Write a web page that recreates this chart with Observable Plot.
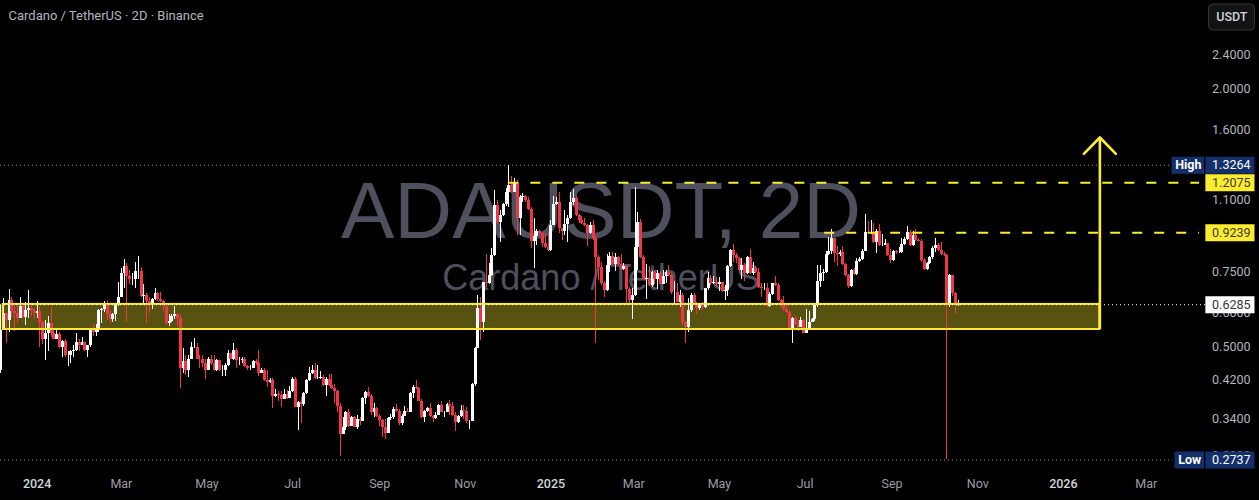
<!DOCTYPE html>
<html>
<head>
<meta charset="utf-8">
<script src="https://cdn.jsdelivr.net/npm/d3@7"></script>
<script src="https://cdn.jsdelivr.net/npm/@observablehq/plot@0.6"></script>
<style>html,body{margin:0;padding:0;background:#000;overflow:hidden}</style>
</head>
<body>
<div id="chart"></div>
<script>
const firstOpen = 0.443;
const closes = [
.548,.601,.578,.644,.607,.601,.585,.624,.588,.61,
.617,.607,.601,.607,.572,.523,.54,.569,.54,.523,
.537,.501,.517,.478,.478,.488,.493,.514,.506,.514,
.493,.504,.548,.543,.548,.61,.614,.634,.598,.582,
.595,.627,.654,.744,.772,.732,.72,.72,.752,.752,
.658,.661,.641,.634,.647,.668,.647,.641,.624,.569,
.575,.591,.595,.585,.446,.463,.443,.47,.501,.501,
.47,.468,.458,.441,.47,.458,.441,.465,.441,.441,
.455,.485,.468,.493,.465,.465,.47,.451,.446,.446,
.463,.46,.436,.443,.418,.414,.418,.385,.389,.387,
.379,.389,.381,.395,.421,.363,.373,.369,.391,.418,
.434,.441,.423,.423,.425,.408,.421,.408,.401,.395,
.365,.313,.326,.352,.328,.344,.326,.34,.337,.381,
.393,.385,.352,.361,.346,.339,.326,.316,.342,.344,
.359,.355,.332,.346,.355,.353,.391,.403,.401,.375,
.344,.355,.361,.346,.342,.348,.367,.353,.353,.369,
.365,.348,.335,.346,.357,.355,.337,.337,.41,.498,
.617,.572,.709,.705,.736,.819,1.07,.977,1.015,1.075,
1.147,1.19,1.147,1.203,.998,1.117,1.123,1.099,1.047,.882,
.906,.931,.921,.873,.854,.841,.961,1.075,1.087,.946,
.931,.967,.998,1.087,1.111,1.015,.987,.972,.961,.921,
.961,.896,.81,.768,.705,.679,.777,.814,.781,.81,
.781,.76,.772,.683,.644,.661,.854,.977,.81,.72,
.724,.698,.748,.72,.744,.701,.732,.748,.736,.672,
.672,.637,.661,.572,.557,.61,.661,.634,.617,.63,
.62,.686,.724,.705,.709,.701,.709,.675,.679,.772,
.841,.819,.806,.756,.777,.744,.81,.744,.764,.748,
.69,.686,.686,.624,.665,.705,.698,.644,.627,.614,
.604,.551,.585,.566,.557,.578,.54,.548,.572,.582,
.627,.713,.744,.748,.823,.836,.896,.827,.823,.832,
.781,.736,.694,.756,.74,.793,.802,.836,.926,.921,
.926,.877,.931,.863,.863,.873,.819,.797,.836,.832,
.832,.868,.891,.926,.863,.911,.887,.882,.797,.76,
.785,.81,.85,.863,.841,.823,.819,.627,.736,.668,.627,.6285];
const highs = [
.627,.651,.601,.683,.654,.627,.627,.654,.634,.637,
.679,.627,.617,.641,.62,.575,.578,.591,.62,.554,
.551,.543,.52,.523,.488,.493,.504,.54,.523,.528,
.514,.506,.551,.566,.566,.614,.617,.641,.644,.61,
.601,.63,.709,.764,.802,.785,.756,.744,.789,.814,
.768,.701,.668,.654,.651,.686,.672,.672,.644,.624,
.598,.598,.624,.598,.595,.498,.48,.478,.514,.525,
.512,.48,.48,.468,.475,.478,.478,.47,.465,.455,
.458,.493,.485,.512,.498,.473,.475,.473,.455,.453,
.465,.468,.493,.446,.446,.441,.423,.423,.399,.395,
.395,.399,.397,.406,.425,.425,.375,.383,.393,.421,
.448,.455,.46,.453,.439,.43,.425,.432,.432,.41,
.397,.371,.344,.355,.359,.346,.346,.348,.344,.383,
.395,.403,.389,.371,.363,.35,.34,.34,.344,.35,
.363,.369,.359,.35,.365,.361,.393,.408,.418,.403,
.379,.357,.363,.371,.348,.353,.369,.375,.355,.371,
.377,.373,.352,.348,.367,.367,.363,.339,.412,.501,
.661,.654,.709,.823,.785,.85,1.159,1.099,1.042,1.081,
1.171,1.3264,1.249,1.236,1.223,1.129,1.141,1.129,1.117,1.058,
.998,.941,.936,.926,.921,.921,.987,1.123,1.117,1.147,
.946,1.042,1.015,1.147,1.165,1.123,1.02,1.009,.998,.967,
.977,.987,.906,.819,.789,.713,.823,.832,.832,.827,
.814,.823,.785,.777,.69,.686,1.177,1.031,.993,.819,
.781,.772,.752,.756,.756,.752,.756,.756,.777,.744,
.713,.705,.679,.668,.575,.651,.668,.668,.637,.634,
.637,.686,.748,.736,.732,.728,.728,.705,.698,.777,
.845,.868,.827,.81,.806,.785,.814,.845,.789,.772,
.764,.705,.705,.705,.672,.705,.732,.705,.647,.658,
.627,.607,.588,.591,.578,.588,.582,.614,.607,.585,
.63,.777,.777,.76,.836,.901,.941,.896,.859,.841,
.859,.785,.74,.76,.764,.806,.81,.845,1.02,.982,
.987,.972,.941,.967,.916,.891,.863,.845,.841,.841,
.854,.896,.901,.956,.936,.931,.941,.896,.891,.806,
.789,.814,.859,.896,.873,.877,.832,.823,.74,.736,.672,.644];
const lows = [
.434,.548,.512,.543,.588,.545,.569,.585,.585,.563,
.585,.591,.582,.585,.501,.509,.465,.488,.528,.523,
.523,.498,.473,.475,.451,.46,.475,.49,.488,.504,
.49,.475,.501,.531,.531,.543,.569,.604,.578,.569,
.572,.575,.624,.654,.686,.572,.701,.698,.686,.72,
.654,.627,.569,.601,.614,.644,.641,.637,.607,.563,
.56,.572,.582,.56,.401,.434,.43,.425,.468,.496,
.468,.446,.448,.421,.441,.455,.439,.439,.439,.427,
.427,.451,.468,.465,.446,.455,.46,.448,.443,.443,
.446,.455,.427,.436,.416,.403,.412,.361,.383,.375,
.363,.379,.379,.381,.393,.363,.32,.333,.365,.389,
.416,.432,.421,.421,.421,.406,.385,.406,.399,.371,
.352,.279,.313,.321,.326,.328,.325,.323,.33,.337,
.369,.383,.348,.344,.344,.328,.308,.306,.315,.339,
.34,.353,.33,.33,.346,.352,.352,.381,.399,.375,
.342,.335,.352,.344,.335,.34,.353,.352,.344,.352,
.348,.346,.318,.333,.344,.34,.332,.323,.337,.406,
.496,.52,.543,.69,.701,.732,.814,.967,.877,1.009,
1.064,1.058,1.141,1.147,.911,.911,1.087,1.087,1.042,.85,
.764,.863,.916,.854,.85,.836,.836,.961,1.07,.921,
.887,.911,.877,.993,1.07,1.009,.972,.967,.956,.859,
.916,.887,.512,.716,.698,.654,.675,.748,.777,.752,
.777,.756,.756,.634,.63,.582,.658,.756,.806,.716,
.647,.694,.69,.701,.683,.698,.709,.705,.732,.665,
.63,.637,.62,.563,.512,.543,.604,.63,.598,.61,
.61,.617,.679,.698,.701,.69,.675,.672,.644,.658,
.768,.789,.785,.752,.72,.713,.74,.74,.736,.744,
.686,.654,.679,.62,.62,.661,.694,.641,.62,.61,
.601,.548,.512,.563,.545,.557,.54,.54,.563,.575,
.575,.62,.69,.713,.744,.819,.823,.789,.772,.814,
.777,.732,.686,.69,.736,.736,.789,.797,.836,.916,
.916,.873,.827,.859,.859,.868,.814,.785,.793,.823,
.827,.827,.863,.887,.859,.859,.882,.882,.789,.756,
.756,.781,.802,.832,.836,.819,.814,.2737,.62,.658,.595,.624];

const firstBar = "2023-12-06";
const viewStart = new Date("2023-12-05T22:00Z"), viewEnd = new Date("2026-05-20T17:00Z");
const priceTop = 3.205, priceBottom = 0.2587;

const priceTicks = [2.4, 2.0, 1.6, 1.1, 0.75, 0.6, 0.5, 0.42, 0.34, 0.28];
const yearTicks = [["2024-01-01","2024"],["2025-01-01","2025"],["2026-01-01","2026"]];
const monthTicks = [["2024-03-01","Mar"],["2024-05-01","May"],["2024-07-01","Jul"],["2024-09-01","Sep"],["2024-11-01","Nov"],
  ["2025-03-01","Mar"],["2025-05-01","May"],["2025-07-01","Jul"],["2025-09-01","Sep"],["2025-11-01","Nov"],["2026-03-01","Mar"]];

const zoneTop = 0.6296, zoneBottom = 0.5505;
const zoneStart = "2023-12-07T19:00Z", zoneEnd = "2026-01-27T00:00Z";
const resistance = [{price:1.2075, from:"2024-12-02"},{price:0.9239, from:"2025-07-15"}];
const dashEnd = "2026-04-08T00:00Z";
const arrowTip = 1.539, arrowWing = 1.41;
const arrowHead = [["2026-01-15T14:00Z",arrowWing],["2026-01-27T00:00Z",arrowTip],["2026-02-07T10:00Z",arrowWing]];
const lastPrice = 0.6285, allHigh = 1.3264, allLow = 0.2737;

const candles = closes.map((c,i) => {
  const date = new Date(Date.parse(firstBar+"T00:00Z") + i*2*864e5);
  const open = i ? closes[i-1] : firstOpen;
  return {date, open, close:c, high:Math.max(highs[i],open,c), low:Math.min(lows[i],open,c), color:c>=open ? "#ffffff" : "#f23645"};
});

const tagLeft = "2026-04-12T12:00Z", tagRight = "2026-05-17T12:00Z";
const tags = [
  {price:allHigh, label:"1.3264", fill:"#14306b", text:"#ffffff", weight:700},
  {price:1.2075, label:"1.2075", fill:"#fdeb30", text:"#3a3a2a", weight:400},
  {price:0.9239, label:"0.9239", fill:"#fdeb30", text:"#3a3a2a", weight:400},
  {price:lastPrice, label:"0.6285", fill:"#ffffff", text:"#333333", weight:400},
  {price:allLow, label:"0.2737", fill:"#14306b", text:"#ffffff", weight:700}
];
const sideTags = [
  {price:allHigh, label:"High", from:"2026-03-19T12:00Z", at:"2026-03-31T00:00Z"},
  {price:allLow, label:"Low", from:"2026-03-21T12:00Z", at:"2026-04-01T00:00Z"}
];
const yellow = "#fdeb30", font = "Roboto, 'Noto Sans', sans-serif";

const chart = Plot.plot({
  width:1259, height:500, marginTop:0, marginRight:0, marginBottom:30, marginLeft:0,
  style:{background:"#000", fontFamily:font},
  x:{type:"utc", domain:[viewStart,viewEnd], range:[0,1259], axis:null},
  y:{type:"log", domain:[priceBottom,priceTop], range:[470,0], axis:null},
  marks:[
    Plot.text(["ADAUSDT, 2D"],{x:()=>new Date("2025-02-05T17:00Z"), y:()=>1.029, text:d=>d, fontSize:80, fill:"#4e505d", fontFamily:"'Liberation Sans'"}),
    Plot.text(["Cardano / TetherUS"],{x:()=>new Date("2025-02-05T17:00Z"), y:()=>0.723, text:d=>d, fontSize:36, fill:"#4e505d", fontFamily:"'Liberation Sans'"}),
    Plot.text(["Cardano / TetherUS · 2D · Binance"],{frameAnchor:"top-left", dx:8, dy:10, text:d=>d, fontSize:13, fill:"#b2b5be", textAnchor:"start"}),

    Plot.ruleY([allHigh,allLow],{x1:viewStart, x2:new Date("2026-03-20T00:00Z"), stroke:"#8a8d96", strokeWidth:1, strokeDasharray:"1,3"}),
    Plot.rect([0],{x1:()=>new Date(zoneStart), x2:()=>new Date(zoneEnd), y1:()=>zoneBottom, y2:()=>zoneTop, fill:yellow, fillOpacity:0.35}),

    Plot.ruleX(candles,{x:"date", y1:"low", y2:"high", stroke:"color", strokeWidth:1, shapeRendering:"crispEdges"}),
    Plot.ruleX(candles,{x:"date", y1:"open", y2:"close", stroke:"color", strokeWidth:3, shapeRendering:"crispEdges"}),

    Plot.rect([0],{x1:()=>new Date(zoneStart), x2:()=>new Date(zoneEnd), y1:()=>zoneBottom, y2:()=>zoneTop, fill:"none", stroke:yellow, strokeWidth:2}),
    Plot.ruleY([lastPrice],{x1:viewStart, x2:new Date(tagLeft), stroke:"#ffffff", strokeWidth:1, strokeDasharray:"1,3"}),
    Plot.ruleY(resistance,{y:"price", x1:d=>new Date(d.from), x2:()=>new Date(dashEnd), stroke:yellow, strokeWidth:2, strokeDasharray:"10,12"}),
    Plot.ruleX([new Date(zoneEnd)],{y1:zoneBottom, y2:arrowTip, stroke:yellow, strokeWidth:2.6}),
    Plot.line(arrowHead,{x:d=>new Date(d[0]), y:d=>d[1], stroke:yellow, strokeWidth:2.6, curve:"linear"}),

    Plot.text(priceTicks,{y:d=>d, frameAnchor:"right", dx:-9, text:d=>d.toFixed(4), fontSize:12.5, fill:"#b2b5be", textAnchor:"end"}),
    Plot.text(yearTicks,{x:d=>new Date(d[0]), frameAnchor:"bottom", dy:17, text:d=>d[1], fontSize:12.5, fontWeight:500, fill:"#d1d4dc"}),
    Plot.text(monthTicks,{x:d=>new Date(d[0]), frameAnchor:"bottom", dy:17, text:d=>d[1], fontSize:12.5, fill:"#9a9da6"}),

    Plot.ruleY(sideTags,{y:"price", x1:d=>new Date(d.from), x2:()=>new Date("2026-04-11T12:00Z"), stroke:"#14306b", strokeWidth:17}),
    Plot.text(sideTags,{y:"price", x:d=>new Date(d.at), text:"label", fontSize:12.5, fontWeight:700, fill:"#ffffff"}),
    Plot.ruleY(tags,{y:"price", x1:()=>new Date(tagLeft), x2:()=>new Date(tagRight), stroke:"fill", strokeWidth:17}),
    Plot.text(tags,{y:"price", frameAnchor:"right", dx:-9, text:"label", fontSize:12.5, fontWeight:"weight", fill:"text", textAnchor:"end"}),

    Plot.rect([0],{x1:()=>new Date("2026-04-14T19:00Z"), x2:()=>new Date(tagRight), y1:()=>2.729, y2:()=>3.137, rx:4, fill:"#131313", stroke:"#363636", strokeWidth:1}),
    Plot.text(["USDT"],{x:()=>new Date("2026-05-01T00:00Z"), y:()=>2.93, text:d=>d, fontSize:12.5, fontWeight:500, fill:"#d1d4dc"})
  ]
});
document.getElementById("chart").appendChild(chart);
</script>
</body>
</html>
